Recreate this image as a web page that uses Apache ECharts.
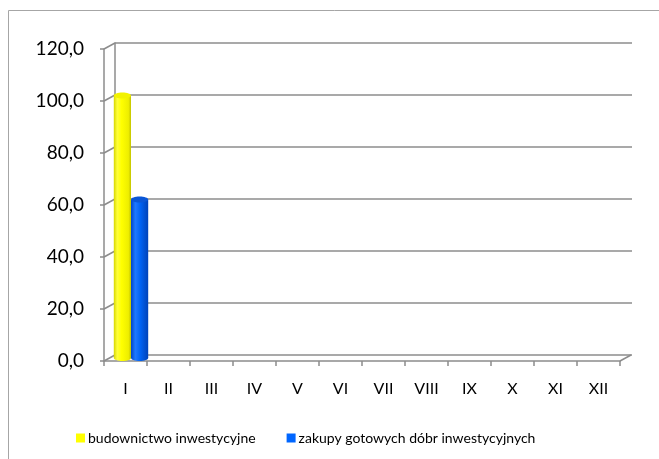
<!DOCTYPE html>
<html>
<head>
<meta charset="utf-8">
<script src="https://cdn.jsdelivr.net/npm/echarts@6/dist/echarts.min.js"></script>
<style>
  html, body { margin: 0; padding: 0; background: #fff; }
  #chart { width: 659px; height: 459px; }
</style>
</head>
<body>
<div id="chart"></div>
<script>
// dane wykresu
var months = ['I', 'II', 'III', 'IV', 'V', 'VI', 'VII', 'VIII', 'IX', 'X', 'XI', 'XII'];
var budownictwo = [101.0, null, null, null, null, null, null, null, null, null, null, null];
var zakupy = [61.0, null, null, null, null, null, null, null, null, null, null, null];
var yTicks = [0, 20, 40, 60, 80, 100, 120];
var seriesNames = ['budownictwo inwestycyjne', 'zakupy gotowych dóbr inwestycyjnych'];

var DX = 11, DY = -6;   // przesunięcie głębokości 3D
var FONT = 'Lato';
var GRID_COLOR = '#8c8c8c';

var chart = echarts.init(document.getElementById('chart'));

function toData(arr) {
  return arr.map(function (v, i) { return [i, v]; }).filter(function (d) { return d[1] != null; });
}

// walec (kolumna 3D)
function cylinder(side, stops, topColor) {
  return function (params, api) {
    var cat = api.value(0), v = api.value(1);
    var top = api.coord([cat, v]);
    var base = api.coord([cat, 0]);
    var band = api.size([1, 0])[0];
    var w = band * 0.4;
    var cx = top[0] + DX / 2 + (side === 0 ? -w / 2 : w / 2);
    var ty = top[1] + DY / 2, by = base[1] + DY / 2;
    var ry = 3;
    var grad = new echarts.graphic.LinearGradient(0, 0, 1, 0, stops);
    return {
      type: 'group',
      children: [
        { type: 'ellipse', shape: { cx: cx, cy: by, rx: w / 2, ry: ry }, style: { fill: grad } },
        { type: 'rect', shape: { x: cx - w / 2, y: ty, width: w, height: by - ty }, style: { fill: grad } },
        { type: 'ellipse', shape: { cx: cx, cy: ty, rx: w / 2, ry: ry }, style: { fill: topColor } }
      ]
    };
  };
}

var option = {
  backgroundColor: '#fff',
  animation: false,
  graphic: [{
    type: 'rect',
    shape: { x: 8.5, y: 10.5, width: 700, height: 500 },
    style: { fill: 'none', stroke: '#a6a6a6', lineWidth: 1 },
    silent: true
  }],
  legend: {
    data: seriesNames,
    left: 76,
    top: 431,
    padding: 0,
    icon: 'rect',
    itemWidth: 9,
    itemHeight: 9,
    itemGap: 31,
    textStyle: { fontFamily: FONT, fontSize: 14, color: '#000', padding: [0, 0, 0, -2] }
  },
  grid: [
    { left: 104, right: 39, top: 49, bottom: 98 },
    { left: 115, right: 27, top: 43, bottom: 104 }
  ],
  xAxis: [
    {
      gridIndex: 0,
      type: 'category',
      data: months,
      boundaryGap: true,
      axisLine: { show: true, lineStyle: { color: GRID_COLOR, width: 1.5 } },
      axisTick: { show: true, length: 5, lineStyle: { color: GRID_COLOR, width: 1.5 } },
      axisLabel: { margin: 20, fontFamily: FONT, fontSize: 16, color: '#000' },
      splitLine: { show: false }
    },
    {
      gridIndex: 1,
      type: 'category',
      data: months,
      show: false
    }
  ],
  yAxis: [
    {
      gridIndex: 0,
      type: 'value',
      min: 0, max: 120, interval: 20,
      axisLine: { show: true, lineStyle: { color: GRID_COLOR, width: 1.5 } },
      axisTick: { show: true, length: 4, lineStyle: { color: GRID_COLOR, width: 1.5 } },
      axisLabel: {
        margin: 20, fontFamily: FONT, fontSize: 19, color: '#000',
        formatter: function (v) { return v.toFixed(1).replace('.', ','); }
      },
      splitLine: { show: false }
    },
    {
      gridIndex: 1,
      type: 'value',
      min: 0, max: 120, interval: 20,
      axisLine: { show: true, lineStyle: { color: GRID_COLOR, width: 1.5 } },
      axisTick: { show: false },
      axisLabel: { show: false },
      splitLine: { show: true, lineStyle: { color: GRID_COLOR, width: 1.5 } }
    }
  ],
  series: [
    {
      // skośne krawędzie ściany bocznej i podłogi
      type: 'custom',
      xAxisIndex: 0, yAxisIndex: 0,
      silent: true,
      z: 1,
      data: yTicks.map(function (v) { return [0, v]; }),
      renderItem: function (params, api) {
        var cs = params.coordSys;
        var y = api.coord([0, api.value(1)])[1];
        var ls = { stroke: GRID_COLOR, lineWidth: 1.5 };
        var children = [
          { type: 'line', shape: { x1: cs.x, y1: y, x2: cs.x + DX, y2: y + DY }, style: ls }
        ];
        if (api.value(1) === 0) {
          children.push({ type: 'line', shape: { x1: cs.x + cs.width, y1: y, x2: cs.x + cs.width + DX, y2: y + DY }, style: ls });
        }
        return { type: 'group', children: children };
      }
    },
    {
      name: seriesNames[0],
      type: 'custom',
      xAxisIndex: 0, yAxisIndex: 0,
      z: 3,
      itemStyle: { color: '#ffff00' },
      data: toData(budownictwo),
      renderItem: cylinder(0, [
        { offset: 0, color: '#d6d600' },
        { offset: 0.2, color: '#ffff3a' },
        { offset: 0.45, color: '#ffff00' },
        { offset: 0.85, color: '#eeee00' },
        { offset: 1, color: '#c4c400' }
      ], '#f2f200')
    },
    {
      name: seriesNames[1],
      type: 'custom',
      xAxisIndex: 0, yAxisIndex: 0,
      z: 3,
      itemStyle: { color: '#0066ff' },
      data: toData(zakupy),
      renderItem: cylinder(1, [
        { offset: 0, color: '#0046c8' },
        { offset: 0.25, color: '#1f78ff' },
        { offset: 0.55, color: '#0062f2' },
        { offset: 1, color: '#0042b8' }
      ], '#0a56d6')
    }
  ]
};

chart.setOption(option);
</script>
</body>
</html>
